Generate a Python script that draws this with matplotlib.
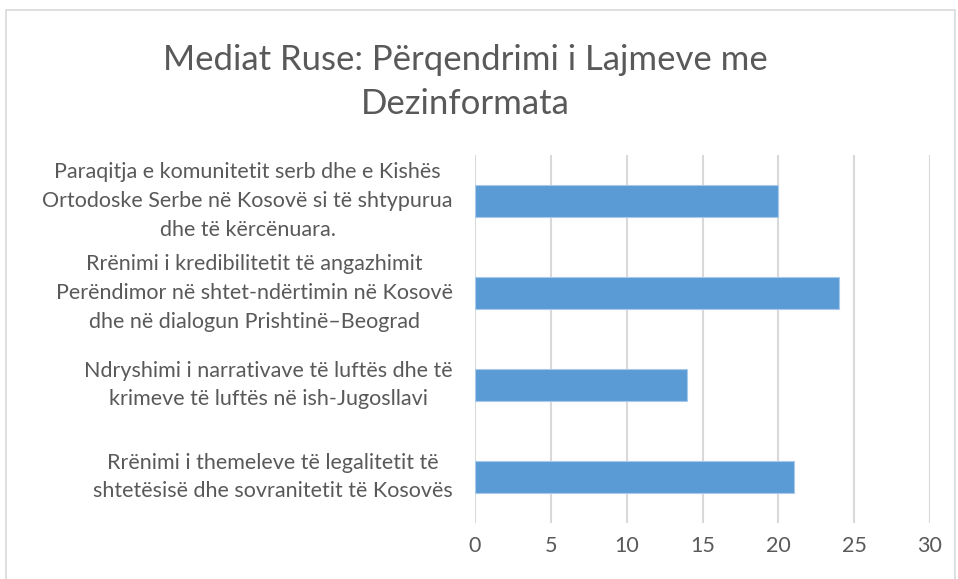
import matplotlib
matplotlib.use("Agg")
import matplotlib.pyplot as plt
from matplotlib.patches import Rectangle

plt.rcParams['font.family'] = ['Lato', 'DejaVu Sans']

# Categories (top to bottom as in the chart) and their values
categories = [
    "Paraqitja e komunitetit serb dhe e Kishës\nOrtodoske Serbe në Kosovë si të shtypurua\ndhe të kërcënuara.",
    "Rrënimi i kredibilitetit të angazhimit\nPerëndimor në shtet-ndërtimin në Kosovë\ndhe në dialogun Prishtinë–Beograd",
    "Ndryshimi i narrativave të luftës dhe të\nkrimeve të luftës në ish-Jugosllavi",
    "Rrënimi i themeleve të legalitetit të\nshtetësisë dhe sovranitetit të Kosovës",
]
values = [20, 24, 14, 21]
x_ticks = [0, 5, 10, 15, 20, 25, 30]

text_color = "#595959"
grid_color = "#d9d9d9"
bar_color = "#5b9bd5"

fig = plt.figure(figsize=(9.58, 5.79), dpi=100)
ax = fig.add_axes([475 / 958, 56 / 579, 455 / 958, 368 / 579])

ypos = list(range(len(categories)))
ax.barh(ypos, values, height=0.35, color=bar_color, edgecolor="#a9c9ea",
        linewidth=0.8, zorder=3)
ax.set_ylim(len(categories) - 0.5, -0.5)
ax.set_xlim(0, 30)
ax.set_xticks(x_ticks)
ax.set_yticks(ypos)
ax.set_yticklabels(categories, va="center")
for lab in ax.get_yticklabels():
    lab.set_multialignment("center")
    lab.set_linespacing(1.55)
    lab.set_fontsize(15.5)

ax.tick_params(axis="both", length=0, colors=text_color)
ax.tick_params(axis="x", pad=9, labelsize=15.5)
ax.tick_params(axis="y", pad=16)
ax.grid(axis="x", color=grid_color, linewidth=1.5, zorder=0)
for s in ax.spines.values():
    s.set_visible(False)

fig.text(465 / 958, 1 - 82 / 579, "Mediat Ruse: Përqendrimi i Lajmeve me\nDezinformata",
         ha="center", va="center", fontsize=25, color=text_color,
         linespacing=1.45)

# chart border
fig.patches.append(Rectangle((6 / 958, -0.05), 949 / 958, 1.05 - 10 / 579,
                             transform=fig.transFigure, fill=False,
                             edgecolor=grid_color, linewidth=1.2))

fig.savefig("out.png", dpi=100)
